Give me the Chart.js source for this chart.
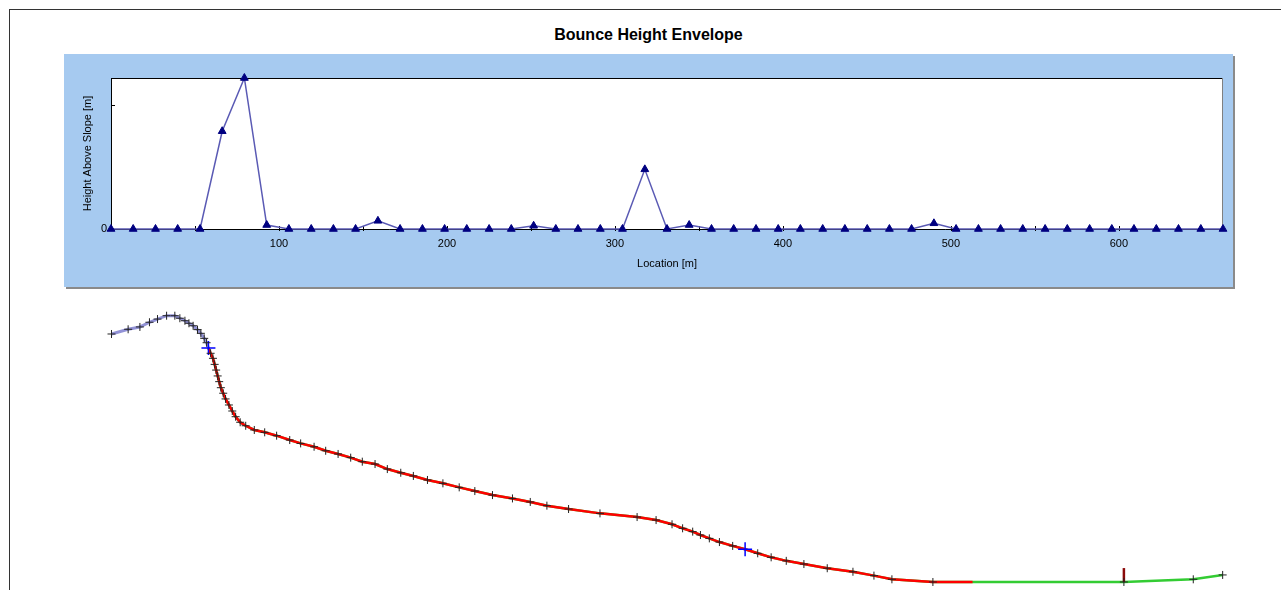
<!DOCTYPE html>
<html>
<head>
<meta charset="utf-8">
<title>Bounce Height Envelope</title>
<script src="https://cdn.jsdelivr.net/npm/chart.js@4/dist/chart.umd.min.js"></script>
<style>
  html, body { margin: 0; padding: 0; background: #fff; width: 1281px; height: 590px; overflow: hidden;
    font-family: "Liberation Sans", Arial, sans-serif; }
  #frame { position: absolute; left: 9px; top: 9px; width: 1272px; height: 581px;
    border-top: 1px solid #333; border-left: 1px solid #333; box-sizing: border-box; }
  #title { position: absolute; left: 64px; width: 1169px; top: 26px; text-align: center;
    font: bold 16px "Liberation Sans", Arial, sans-serif; color: #000; line-height: 17px; }
  #panel { position: absolute; left: 64px; top: 54px; width: 1169px; height: 233px;
    background: #A6CAF0; box-shadow: 2px 2px 0 #8a8a8a; }
  #panel canvas, #profile canvas { display: block; }
  #profile { position: absolute; left: 64px; top: 300px; width: 1169px; height: 290px; }
</style>
</head>
<body>
<div id="frame"></div>
<div id="title">Bounce Height Envelope</div>
<div id="panel"><canvas id="envelope" width="1169" height="233"></canvas></div>
<div id="profile"><canvas id="slope" width="1169" height="290"></canvas></div>

<script>
// ---- Bounce height envelope (location along slope, m) ----
const locations = [0, 13.2, 26.5, 39.7, 53.0, 66.2, 79.4, 92.7, 105.9, 119.2, 132.4, 145.6, 158.9,
  172.1, 185.4, 198.6, 211.8, 225.1, 238.3, 251.6, 264.8, 278.0, 291.3, 304.5, 317.8, 331.0, 344.2,
  357.5, 370.7, 384.0, 397.2, 410.4, 423.7, 436.9, 450.2, 463.4, 476.6, 489.9, 503.1, 516.4, 529.6,
  542.8, 556.1, 569.3, 582.6, 595.8, 609.0, 622.3, 635.5, 648.8, 662.0];
const bounceHeights = [0, 0, 0, 0, 0, 3.95, 6.1, 0.16, 0, 0, 0, 0, 0.33,
  0, 0, 0, 0, 0, 0, 0.13, 0, 0, 0, 0, 2.41, 0, 0.16,
  0, 0, 0, 0, 0, 0, 0, 0, 0, 0, 0.23, 0, 0, 0,
  0, 0, 0, 0, 0, 0, 0, 0, 0, 0];
const locationRange = [0, 662];
const heightRange = [0, 6.1];
const xTickStep = 50;      // tick marks every 50 m, labels every 100 m
const yTickStep = 5;

// ---- Slope profile (horizontal distance, elevation in m) ----
const profileX = [0.3, 10.2, 17.2, 22.9, 27.7, 33.1, 38.0, 41.0, 44.0, 46.4, 48.9, 51.5, 53.5, 55.5,
  56.9, 58.0, 59.3, 60.7, 61.7, 62.6, 63.5, 64.4, 65.4, 66.8, 68.2, 70.2, 72.2, 74.2, 76.9, 80.2,
  85.3, 91.5, 98.6, 106.4, 112.9, 120.9, 127.8, 135.2, 142.7, 149.6, 157.2, 164.5, 172.5, 180.0,
  188.4, 197.6, 207.3, 216.6, 227.1, 239.0, 249.6, 259.5, 272.4, 291.1, 313.2, 324.5, 334.0, 340.3,
  346.3, 350.9, 356.2, 362.2, 370.1, 377.5, 385.0, 393.0, 402.0, 412.5, 426.4, 441.7, 454.2, 464.9,
  489.3, 603.0, 644.3, 661.8];
const profileY = [147.8, 150.6, 152.0, 154.8, 156.7, 158.7, 158.7, 157.2, 155.7, 154.2, 152.7, 150.4,
  148.2, 145.2, 142.6, 139.5, 136.3, 133.3, 129.7, 126.3, 122.8, 119.4, 115.8, 112.5, 109.1, 105.5,
  101.9, 98.5, 95.2, 93.1, 90.6, 89.2, 87.2, 84.6, 82.6, 80.6, 78.2, 76.3, 74.1, 71.7, 70.3, 67.3,
  65.1, 63.2, 60.8, 58.8, 56.4, 54.2, 51.8, 49.8, 47.7, 45.5, 43.5, 40.9, 38.7, 36.9, 34.4, 32.0,
  30.0, 28.0, 26.0, 23.8, 21.5, 19.5, 17.1, 14.7, 12.6, 10.7, 8.2, 6.1, 3.8, 1.6, 0.0, 0.0, 1.6, 4.2];
const releaseIndex = 15;        // vertex where the rock path starts
const lastPathVertex = 72;      // last slope vertex crossed by the rock path
const stopPointX = [512.9];
const stopPointY = [0.0];
const crossX = [58.0, 377.5];   // blue crosshair markers
const crossY = [139.5, 19.5];
const barrierX = [603.0, 603.0];
const barrierY = [0.0, 8.3];
const profileXRange = [0, 662];
const profileYRange = [-3.58, 162.1];

Chart.defaults.font.family = '"Liberation Sans", Arial, sans-serif';
Chart.defaults.color = '#000';

const pts = (xs, ys) => xs.map((x, i) => ({ x, y: ys[i] }));

// Plot frame: white fill, then inward tick marks and the top/right edges
const plotFrame = {
  id: 'plotFrame',
  beforeDraw(chart) {
    const { ctx, chartArea: a } = chart;
    ctx.save();
    ctx.fillStyle = '#fff';
    ctx.fillRect(a.left, a.top, a.right - a.left, a.bottom - a.top);
    ctx.restore();
  },
  beforeDatasetsDraw(chart) {
    const { ctx, chartArea: a, scales: { x, y } } = chart;
    ctx.save();
    ctx.lineWidth = 1;
    ctx.strokeStyle = '#000';
    ctx.beginPath();
    ctx.moveTo(a.left, a.top + 0.5);
    ctx.lineTo(a.right, a.top + 0.5);
    ctx.stroke();
    ctx.strokeStyle = '#808080';
    ctx.beginPath();
    ctx.moveTo(a.right - 0.5, a.top);
    ctx.lineTo(a.right - 0.5, a.bottom);
    ctx.stroke();
    ctx.strokeStyle = '#000';
    x.ticks.forEach(t => {
      if (t.value % xTickStep !== 0 || t.value === 0) return;
      const px = Math.round(x.getPixelForValue(t.value)) + 0.5;
      ctx.beginPath();
      ctx.moveTo(px, a.bottom - 3);
      ctx.lineTo(px, a.bottom + 2);
      ctx.stroke();
    });
    y.ticks.forEach(t => {
      if (t.value % yTickStep !== 0 || t.value === 0) return;
      const py = Math.round(y.getPixelForValue(t.value)) + 0.5;
      ctx.beginPath();
      ctx.moveTo(a.left, py);
      ctx.lineTo(a.left + 4, py);
      ctx.stroke();
    });
    ctx.restore();
  }
};

new Chart(document.getElementById('envelope'), {
  type: 'line',
  data: {
    datasets: [{
      data: pts(locations, bounceHeights),
      borderColor: '#5a5ab4',
      borderWidth: 1.5,
      tension: 0,
      pointStyle: 'triangle',
      pointRadius: 4.5,
      pointBackgroundColor: '#000080',
      pointBorderColor: '#000080',
      pointBorderWidth: 1,
      clip: false
    }]
  },
  options: {
    responsive: false,
    animation: false,
    events: [],
    layout: { padding: { left: 0, right: 10, top: 24, bottom: 0 } },
    plugins: { legend: { display: false }, tooltip: { enabled: false } },
    scales: {
      x: {
        type: 'linear',
        min: locationRange[0],
        max: locationRange[1],
        afterFit: s => { s.height = 58; },
        grid: { drawOnChartArea: false, drawTicks: false },
        border: { color: '#000', width: 1 },
        ticks: {
          stepSize: xTickStep,
          autoSkip: false,
          maxRotation: 0,
          padding: 8,
          font: { size: 11 },
          callback: v => (v > 0 && v % 100 === 0 ? String(v) : '')
        },
        title: { display: true, text: 'Location [m]', font: { size: 11 }, padding: { top: 0, bottom: 16 } }
      },
      y: {
        type: 'linear',
        min: heightRange[0],
        max: heightRange[1],
        afterFit: s => { s.width = 47; },
        grid: { drawOnChartArea: false, drawTicks: false },
        border: { color: '#000', width: 1 },
        ticks: {
          stepSize: yTickStep,
          padding: 4,
          font: { size: 11 },
          callback: v => (v === 0 ? '0' : '')
        },
        title: { display: true, text: 'Height Above Slope [m]', font: { size: 11 }, padding: { top: 17, bottom: 0 } }
      }
    }
  },
  plugins: [plotFrame]
});

// ---- Slope profile with the rock path ----
const upperSlope = pts(profileX.slice(0, releaseIndex + 1), profileY.slice(0, releaseIndex + 1));
const lowerSlope = pts(profileX.slice(releaseIndex), profileY.slice(releaseIndex));
const rockPath = pts(profileX.slice(releaseIndex, lastPathVertex + 1), profileY.slice(releaseIndex, lastPathVertex + 1))
  .concat(pts(stopPointX, stopPointY));
const vertexMarks = pts(profileX, profileY).filter((p, i) => i !== releaseIndex && profileX[i] !== crossX[1]);

new Chart(document.getElementById('slope'), {
  type: 'line',
  data: {
    datasets: [
      { data: vertexMarks, showLine: false, pointStyle: 'cross', pointRadius: 4,
        pointBorderColor: '#222', pointBorderWidth: 1, order: 0, clip: false },
      { data: pts(crossX, crossY), showLine: false, pointStyle: 'cross', pointRadius: 7,
        pointBorderColor: '#0000ff', pointBorderWidth: 1.5, order: 0, clip: false },
      { data: pts(barrierX, barrierY), borderColor: '#8b0a0a', borderWidth: 2.5, pointRadius: 0,
        borderCapStyle: 'butt', order: 1, clip: false },
      { data: rockPath, borderColor: '#ff0000', borderWidth: 2.5, pointRadius: 0, tension: 0, order: 2, clip: false },
      { data: lowerSlope, borderColor: '#33cc33', borderWidth: 2.5, pointRadius: 0, tension: 0, order: 3, clip: false },
      { data: upperSlope, borderColor: 'rgba(110,110,200,0.75)', borderWidth: 3, pointRadius: 0, tension: 0, order: 3, clip: false }
    ]
  },
  options: {
    responsive: false,
    animation: false,
    events: [],
    layout: { autoPadding: false, padding: { left: 47, right: 10, top: 10, bottom: 2 } },
    plugins: { legend: { display: false }, tooltip: { enabled: false } },
    scales: {
      x: { type: 'linear', display: false, min: profileXRange[0], max: profileXRange[1] },
      y: { type: 'linear', display: false, min: profileYRange[0], max: profileYRange[1] }
    }
  }
});
</script>
</body>
</html>
